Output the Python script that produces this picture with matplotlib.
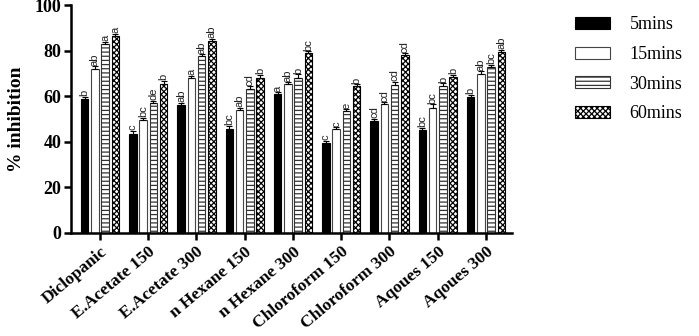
import matplotlib
matplotlib.use("Agg")
import matplotlib.pyplot as plt
import numpy as np
from matplotlib.patches import Patch

# data
groups = ["Diclopanic", "E.Acetate 150", "E.Acetate 300", "n Hexane 150", "n Hexane 300",
          "Chloroform 150", "Chloroform 300", "Aqoues 150", "Aqoues 300"]
series = ["5mins", "15mins", "30mins", "60mins"]

v5 = [58.6, 43.3, 55.9, 45.4, 60.9, 39.5, 49.1, 45.0, 59.7]
v15 = [71.9, 49.4, 68.1, 53.7, 65.3, 45.5, 56.4, 54.6, 69.7]
v30 = [82.9, 57.1, 77.6, 63.1, 68.1, 53.4, 64.7, 64.4, 72.8]
v60 = [86.4, 65.4, 84.3, 68.1, 78.8, 64.4, 78.0, 68.2, 79.5]

e5 = [1.2, 1.5, 1.2, 1.5, 0.8, 1.0, 0.8, 1.2, 0.8]
e15 = [1.2, 1.2, 0.8, 1.0, 0.8, 0.8, 0.8, 1.8, 1.2]
e30 = [0.8, 0.8, 0.8, 1.2, 1.5, 0.8, 1.5, 1.2, 0.8]
e60 = [0.8, 1.2, 0.8, 1.2, 0.8, 0.8, 0.8, 1.2, 0.8]

l5 = ["b", "c", "ab", "bc", "a", "c", "cd", "bc", "b"]
l15 = ["ab", "bc", "a", "ab", "ab", "c", "cd", "bc", "ab"]
l30 = ["a", "de", "ab", "cd", "b", "e", "cd", "b", "bc"]
l60 = ["a", "b", "ab", "b", "bc", "b", "cd", "b", "ab"]

vals = [v5, v15, v30, v60]
errs = [e5, e15, e30, e60]
lets = [l5, l15, l30, l60]

styles = [
    dict(facecolor="black", edgecolor="black", hatch=None),
    dict(facecolor="white", edgecolor="#444444", hatch=None),
    dict(facecolor="white", edgecolor="#333333", hatch="----"),
    dict(facecolor="white", edgecolor="black", hatch="xxxxxx"),
]

plt.rcParams["hatch.linewidth"] = 0.9
serif = ["Liberation Serif", "DejaVu Serif"]

fig = plt.figure(figsize=(6.99, 3.36), dpi=100)
ax = fig.add_axes([0.1016, 0.3074, 0.6309, 0.6776])

x = np.arange(len(groups))
slot = 0.213
w = 0.155
for i in range(4):
    pos = x + (i - 1.5) * slot
    ax.bar(pos, vals[i], width=w, linewidth=0.8, zorder=2, **styles[i])
    ax.errorbar(pos, vals[i], yerr=[np.zeros(len(x)), errs[i]], fmt="none",
                ecolor="black", elinewidth=0.8, capsize=2.2, capthick=0.8, zorder=3)
    for p, v, e, t in zip(pos, vals[i], errs[i], lets[i]):
        ax.text(p, v + e + 0.3, t, rotation=90, ha="center", va="bottom",
                fontsize=8, family=["Liberation Sans", "DejaVu Sans"], color="#222222")

ax.set_xlim(-0.6, 8.54)
ax.set_ylim(0, 100)
ax.set_yticks([0, 20, 40, 60, 80, 100])
ax.set_xticks(x)
ax.set_xticklabels(groups, rotation=40, ha="right", rotation_mode="anchor",
                   fontsize=12.5, fontweight="bold", family=serif)
for lab in ax.get_yticklabels():
    lab.set_fontsize(13)
    lab.set_fontweight("bold")
    lab.set_family(serif)
ax.set_ylabel("% inhibition", fontsize=14, fontweight="bold", family=serif, labelpad=7)

for s in ["top", "right"]:
    ax.spines[s].set_visible(False)
for s in ["left", "bottom"]:
    ax.spines[s].set_linewidth(1.8)
ax.tick_params(axis="both", width=1.8, length=5, direction="out")
ax.tick_params(axis="x", pad=3)
ax.tick_params(axis="y", pad=2)

handles = [Patch(linewidth=0.8, label=series[i], **styles[i]) for i in range(4)]
fig.legend(handles=handles, loc="upper left", bbox_to_anchor=(0.80, 1.0),
           frameon=False, prop={"family": serif, "size": 13},
           handlelength=1.9, handleheight=0.65, labelspacing=0.7, handletextpad=1.1)

fig.savefig("out.png", dpi=100)
